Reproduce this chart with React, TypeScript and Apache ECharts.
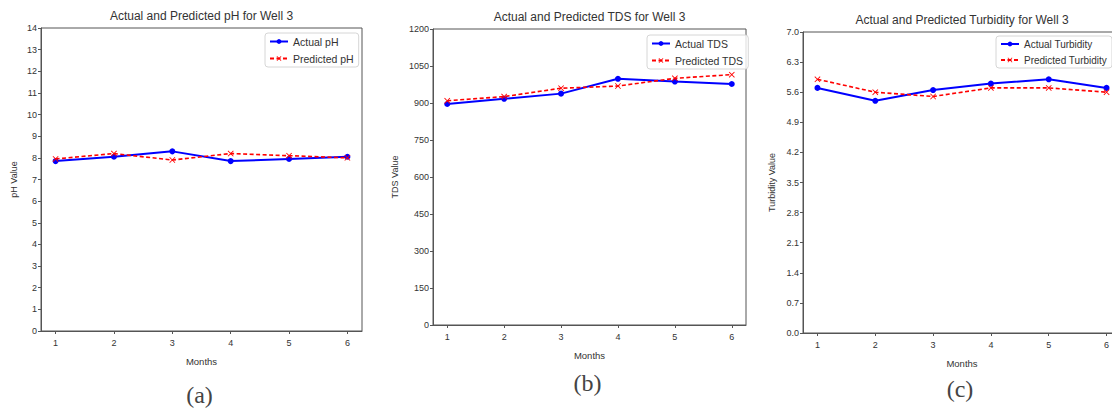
import React, { useEffect, useRef } from "react";
import * as echarts from "echarts";

const months = [1, 2, 3, 4, 5, 6];
const phActual = [7.85, 8.05, 8.3, 7.85, 7.95, 8.05];
const phPredicted = [7.95, 8.2, 7.9, 8.2, 8.1, 8.0];
const tdsActual = [896, 917, 938, 998, 987, 977];
const tdsPredicted = [909, 926, 960, 969, 1000, 1015];
const turbActual = [5.7, 5.4, 5.65, 5.8, 5.9, 5.7];
const turbPredicted = [5.9, 5.6, 5.5, 5.7, 5.7, 5.6];

const phTicks = [0, 1, 2, 3, 4, 5, 6, 7, 8, 9, 10, 11, 12, 13, 14];
const tdsTicks = [0, 150, 300, 450, 600, 750, 900, 1050, 1200];
const turbTicks = [0, 0.7, 1.4, 2.1, 2.8, 3.5, 4.2, 4.9, 5.6, 6.3, 7.0];

const titles = [
  "Actual and Predicted pH for Well 3",
  "Actual and Predicted TDS for Well 3",
  "Actual and Predicted Turbidity for Well 3",
];
const yNames = ["pH Value", "TDS Value", "Turbidity Value"];
const panelLabels = ["(a)", "(b)", "(c)"];
const seriesNames = [
  ["Actual pH", "Predicted pH"],
  ["Actual TDS", "Predicted TDS"],
  ["Actual Turbidity", "Predicted Turbidity"],
];

const X_SYMBOL =
  "path://M0,1 L1,0 L5,4 L9,0 L10,1 L6,5 L10,9 L9,10 L5,6 L1,10 L0,9 L4,5 Z";

const grids = [
  { left: 41, top: 28, width: 321, height: 303 },
  { left: 433, top: 29, width: 313, height: 296 },
  { left: 803, top: 32, width: 318, height: 301 },
];

const FONT = "Liberation Sans";
const AXIS_COLOR = "#555";
const TEXT_COLOR = "#333";

export default function App() {
  const ref = useRef<HTMLDivElement>(null);
  useEffect(() => {
    document.body.style.margin = "0";
    if (!ref.current) return;
    const chart = echarts.init(ref.current, null, { renderer: "svg" });
    const actuals = [phActual, tdsActual, turbActual];
    const preds = [phPredicted, tdsPredicted, turbPredicted];
    const yTicks = [phTicks, tdsTicks, turbTicks];
    const yMax = [14, 1200, 7];
    const yFmt = [
      (v: number) => String(v),
      (v: number) => String(v),
      (v: number) => v.toFixed(1),
    ];
    const legendPos = [
      { left: 265, top: 33 },
      { left: 647, top: 35 },
      { left: 996, top: 36 },
    ];
    const legendFont = [10.5, 10.5, 10];

    const series: any[] = [];
    actuals.forEach((arr, i) => {
      series.push({
        name: seriesNames[i][0],
        type: "line",
        xAxisIndex: i,
        yAxisIndex: i,
        data: months.map((m, k) => [m, arr[k]]),
        symbol: "circle",
        symbolSize: 6,
        lineStyle: { color: "#0000ff", width: 2 },
        itemStyle: { color: "#0000ff" },
        z: 3,
      });
      series.push({
        name: seriesNames[i][1],
        type: "line",
        xAxisIndex: i,
        yAxisIndex: i,
        data: months.map((m, k) => [m, preds[i][k]]),
        symbol: X_SYMBOL,
        symbolSize: 6,
        lineStyle: { color: "#ff0000", width: 1.6, type: [4, 2.5] },
        itemStyle: { color: "#ff0000" },
        z: 4,
      });
    });

    const graphic: any[] = [];
    grids.forEach((g, i) => {
      const cx = g.left + g.width / 2;
      const visibleCx = i === 2 ? 962 : cx;
      graphic.push({
        type: "text",
        x: visibleCx,
        y: g.top - 6,
        style: {
          text: titles[i],
          font: `12px "${FONT}"`,
          fill: TEXT_COLOR,
          textAlign: "center",
          textVerticalAlign: "bottom",
        },
      });
      graphic.push({
        type: "text",
        x: visibleCx,
        y: g.top + g.height + 30,
        style: {
          text: "Months",
          font: `9.5px "${FONT}"`,
          fill: TEXT_COLOR,
          textAlign: "center",
          textVerticalAlign: "middle",
        },
      });
      graphic.push({
        type: "text",
        x: g.left - (i === 1 ? 38 : i === 2 ? 31 : 27),
        y: g.top + g.height / 2,
        rotation: Math.PI / 2,
        style: {
          text: yNames[i],
          font: `9px "${FONT}"`,
          fill: TEXT_COLOR,
          textAlign: "center",
          textVerticalAlign: "middle",
        },
      });
      graphic.push({
        type: "text",
        x: visibleCx - 2,
        y: [395, 383, 389][i],
        style: {
          text: panelLabels[i],
          font: `24px "Liberation Serif"`,
          fill: "#444",
          textAlign: "center",
          textVerticalAlign: "middle",
        },
      });
    });

    const option: any = {
      animation: false,
      backgroundColor: "#fff",
      textStyle: { fontFamily: FONT },
      grid: grids.map((g) => ({
        ...g,
        show: true,
        borderColor: AXIS_COLOR,
        borderWidth: 1,
        backgroundColor: "transparent",
        containLabel: false,
        outerBoundsMode: "none",
      })),
      xAxis: grids.map((_, i) => ({
        type: "value",
        gridIndex: i,
        min: 0.75,
        max: 6.25,
        axisLine: { show: true, lineStyle: { color: AXIS_COLOR } },
        axisTick: {
          show: true,
          length: 3,
          customValues: months,
          lineStyle: { color: AXIS_COLOR },
        },
        axisLabel: {
          customValues: months,
          fontSize: 9,
          color: TEXT_COLOR,
          margin: 7,
          fontFamily: FONT,
        },
        splitLine: { show: false },
      })),
      yAxis: grids.map((_, i) => ({
        type: "value",
        gridIndex: i,
        min: 0,
        max: yMax[i],
        axisLine: { show: true, lineStyle: { color: AXIS_COLOR } },
        axisTick: {
          show: true,
          length: 3,
          customValues: yTicks[i],
          lineStyle: { color: AXIS_COLOR },
        },
        axisLabel: {
          customValues: yTicks[i],
          formatter: yFmt[i],
          fontSize: 9,
          color: TEXT_COLOR,
          margin: 4,
          fontFamily: FONT,
        },
        splitLine: { show: false },
      })),
      legend: grids.map((_, i) => ({
        data: seriesNames[i],
        orient: "vertical",
        ...legendPos[i],
        padding: [3, 5, 3, 4],
        itemGap: 6,
        itemWidth: 18,
        itemHeight: 6,
        borderColor: "#d6d6d6",
        borderWidth: 1,
        borderRadius: 3,
        backgroundColor: "rgba(255,255,255,0.8)",
        textStyle: { fontSize: legendFont[i], color: TEXT_COLOR, fontFamily: FONT },
      })),
      series,
      graphic,
    };
    chart.setOption(option);
    return () => chart.dispose();
  }, []);
  return <div ref={ref} style={{ width: 1112, height: 412 }} />;
}
